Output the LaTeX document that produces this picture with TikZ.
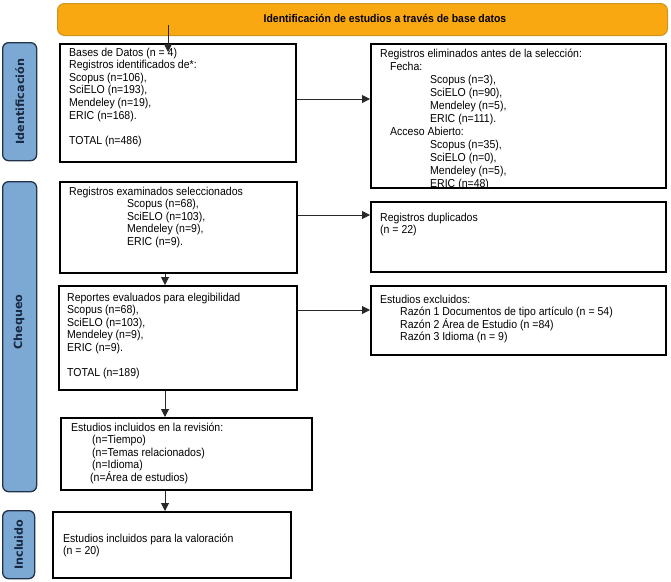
\documentclass[tikz,border=0pt]{standalone}
\usepackage{fontspec}
\setmainfont[FakeStretch=0.915]{Liberation Sans}
\newfontfamily\hdrfont[FakeStretch=0.93]{Liberation Sans}
\newfontfamily\sidefont{DejaVu Sans}
\usetikzlibrary{arrows.meta,calc}
\definecolor{hdrfill}{RGB}{250,168,18}
\definecolor{hdrdraw}{RGB}{205,150,30}
\definecolor{sidefill}{RGB}{124,168,212}
\definecolor{sidedraw}{RGB}{35,50,75}
\definecolor{sidetext}{RGB}{25,40,65}
\definecolor{arrgray}{RGB}{40,40,40}
\newcommand{\fs}{\fontsize{11.5}{12.6}\selectfont}
\newcommand{\fsb}{\fontsize{11.5}{13}\selectfont}
\tikzset{
  x=1pt, y=-1pt,
  boxshape/.style={draw=black, line width=1.8pt, rectangle, inner sep=0pt, anchor=north west},
  txt/.style={anchor=north west, inner sep=0pt, align=left, font=\fs},
  sidebox/.style={draw=sidedraw, fill=sidefill, line width=1.3pt, rounded corners=6pt, rectangle, inner sep=0pt, anchor=north west},
  sidelbl/.style={rotate=90, text=sidetext, font=\sidefont\bfseries\fontsize{11.2}{13}\selectfont},
  arr/.style={draw=arrgray, line width=1pt, -{Triangle[length=8pt,width=8pt]}}
}
\begin{document}
\begin{tikzpicture}
\useasboundingbox (0,0) rectangle (671,581);
% header
\node[draw=hdrdraw, fill=hdrfill, line width=1pt, rounded corners=7pt, rectangle, inner sep=0pt, anchor=north west,
  minimum width=610pt, minimum height=32pt] (hdr) at (57,3) {};
\node[font=\hdrfont\bfseries\fontsize{11.2}{13}\selectfont, anchor=center] (hdrt) at (385,18) {Identificación de estudios a través de base datos};
% side labels
\node[sidebox, minimum width=34pt, minimum height=118pt] (s1) at (2,42) {};
\node[sidelbl] (s1t) at (s1.center) {Identificación};
\node[sidebox, minimum width=34pt, minimum height=310pt] (s2) at (2,181) {};
\node[sidelbl] (s2t) at (19,322) {Chequeo};
\node[sidebox, minimum width=32pt, minimum height=68pt] (s3) at (2,510) {};
\node[sidelbl] (s3t) at (s3.center) {Incluido};
% boxes
\node[boxshape, minimum width=236pt, minimum height=118pt] (b1) at (59,43) {};
\node[txt] (b1t) at (69,47) {\strut Bases de Datos (n = 4)\\Registros identificados de*:\\Scopus (n=106),\\SciELO (n=193),\\Mendeley (n=19),\\ERIC (n=168).\\[12.6pt]TOTAL (n=486)};
\begin{scope}
\clip (370,43) rectangle (665,187);
\node[txt, font=\fsb] (b2t) at (380,48) {\strut Registros eliminados antes de la selección:\\\hspace*{10pt}Fecha:\\\hspace*{50pt}Scopus (n=3),\\\hspace*{50pt}SciELO (n=90),\\\hspace*{50pt}Mendeley (n=5),\\\hspace*{50pt}ERIC (n=111).\\\hspace*{10pt}Acceso Abierto:\\\hspace*{50pt}Scopus (n=35),\\\hspace*{50pt}SciELO (n=0),\\\hspace*{50pt}Mendeley (n=5),\\\hspace*{50pt}ERIC (n=48)};
\end{scope}
\node[boxshape, minimum width=295pt, minimum height=144pt] (b2) at (370,43) {};
\node[boxshape, minimum width=237pt, minimum height=91pt] (b3) at (59,181) {};
\node[txt] (b3t) at (69,186) {\strut Registros examinados seleccionados\\\hspace*{58pt}Scopus (n=68),\\\hspace*{58pt}SciELO (n=103),\\\hspace*{58pt}Mendeley (n=9),\\\hspace*{58pt}ERIC (n=9).};
\node[boxshape, minimum width=295pt, minimum height=70pt] (b4) at (370,201) {};
\node[txt] (b4t) at (380,212) {\strut Registros duplicados\\(n = 22)};
\node[boxshape, minimum width=238pt, minimum height=104pt] (b5) at (58,285) {};
\node[txt] (b5t) at (67,292) {\strut Reportes evaluados para elegibilidad\\Scopus (n=68),\\SciELO (n=103),\\Mendeley (n=9),\\ERIC (n=9).\\[12.6pt]TOTAL (n=189)};
\node[boxshape, minimum width=295pt, minimum height=69pt] (b6) at (370,285) {};
\node[txt] (b6t) at (380,294) {\strut Estudios excluidos:\\\hspace*{20pt}Razón 1 Documentos de tipo artículo (n = 54)\\\hspace*{20pt}Razón 2 Área de Estudio (n =84)\\\hspace*{20pt}Razón 3 Idioma (n = 9)};
\node[boxshape, minimum width=251pt, minimum height=72pt] (b7) at (60,417) {};
\node[txt] (b7t) at (71,422) {\strut Estudios incluidos en la revisión:\\\hspace*{21pt}(n=Tiempo)\\\hspace*{21pt}(n=Temas relacionados)\\\hspace*{21pt}(n=Idioma)\\\hspace*{19pt}(n=Área de estudios)};
\node[boxshape, minimum width=238pt, minimum height=66pt] (b8) at (52,511) {};
\node[txt] (b8t) at (63,533) {\strut Estudios incluidos para la valoración\\(n = 20)};
% arrows
\coordinate (hs) at (168,25);
\coordinate (he) at (168,52);
\draw[arr] (hs) -- (he);
\draw[arr] (b1.east |- 0,99) -- (b2.west |- 0,99);
\draw[arr] (b3.east |- 0,215) -- (b4.west |- 0,215);
\draw[arr] (b5.east |- 0,310) -- (b6.west |- 0,310);
\draw[arr] (b3.south -| 165,0) -- (b5.north -| 165,0);
\draw[arr] (b5.south -| 165,0) -- (b7.north -| 165,0);
\draw[arr] (b7.south -| 165,0) -- (b8.north -| 165,0);
\end{tikzpicture}
\end{document}
